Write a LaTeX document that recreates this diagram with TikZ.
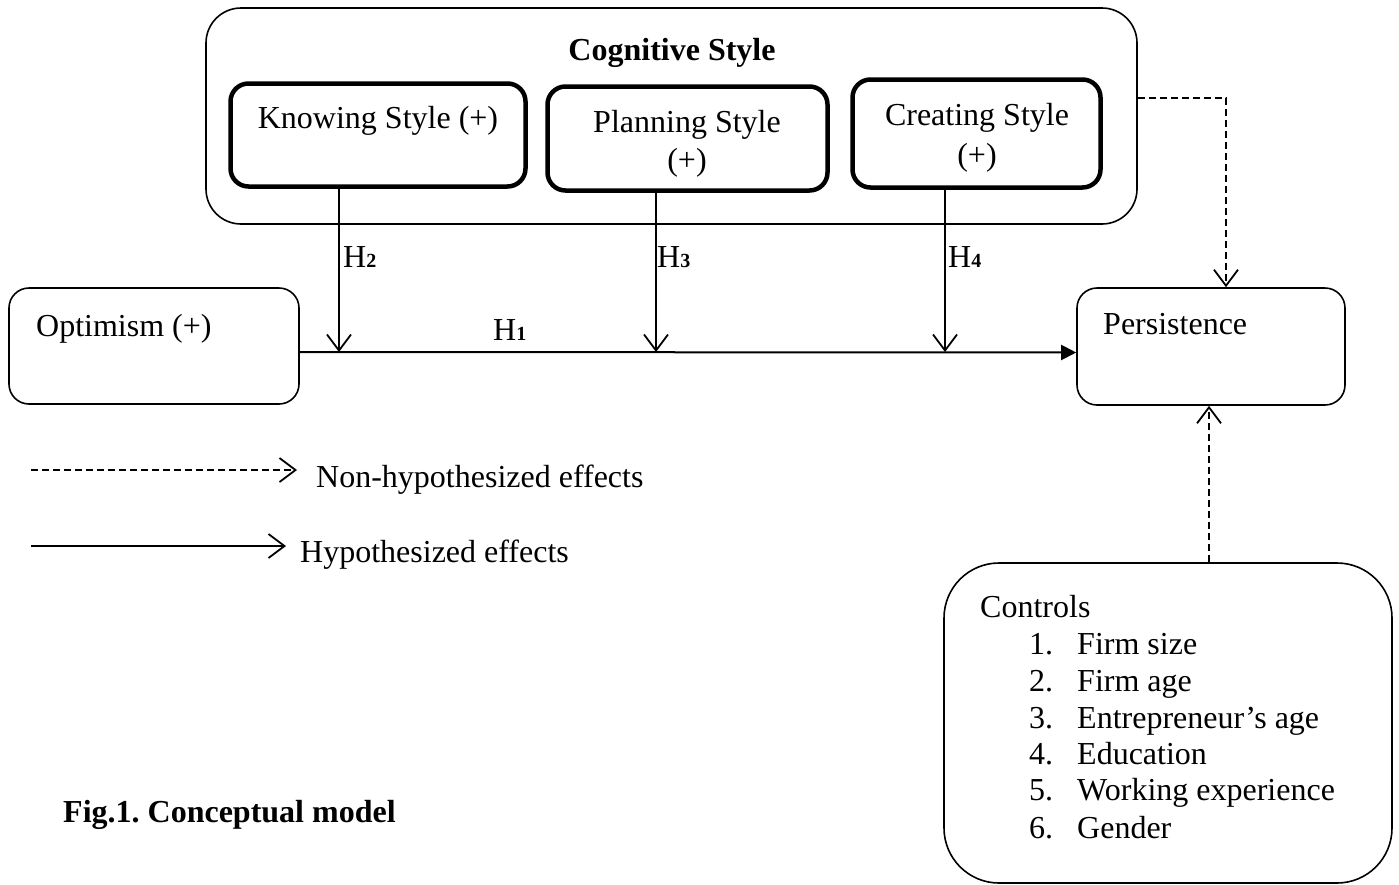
\documentclass[tikz,border=0pt]{standalone}
\usepackage{fontspec}
\setmainfont{Liberation Serif}
\usepackage{tikz}
\usetikzlibrary{arrows.meta,calc}
\frenchspacing
\newcommand{\bodyfont}{\fontsize{32}{37}\selectfont}
\newcommand{\subdigit}[1]{{\fontsize{20}{20}\selectfont\bfseries #1}}
\tikzset{
        thinbox/.style = {draw, rectangle, rounded corners=20pt,
            line width=1.6pt, inner sep=0pt},
        thickbox/.style = {draw, rectangle, rounded corners=18pt,
            line width=4.5pt, inner sep=0pt},
        txt/.style = {inner sep=0pt, anchor=base west, font=\bodyfont},
        mainarrow/.style = {draw, line width=2pt, -{Triangle[length=15pt,width=15pt]}},
        hyparrow/.style = {draw, line width=1.4pt,
            -{Straight Barb[length=16pt,width=24pt,line width=1.8pt]}},
        nonhyparrow/.style = {draw, line width=1.4pt, dash pattern=on 7pt off 4pt,
            -{Straight Barb[length=16pt,width=24pt,line width=1.8pt]}},
    }

\begin{document}
\begin{tikzpicture}[x=1pt,y=1pt,yscale=-1,xscale=1]
    \useasboundingbox (0,0) rectangle (1399,884);

    % Boxes
    \node[thinbox, rounded corners=35pt, minimum width=931pt, minimum height=216pt] (cogbox) at (671.5,116) {};
    \node[thickbox, minimum width=295pt, minimum height=103pt] (knowbox) at (378,135) {};
    \node[thickbox, minimum width=280pt, minimum height=104pt] (planbox) at (687.5,138.5) {};
    \node[thickbox, minimum width=248pt, minimum height=108pt] (creatbox) at (976.5,133.5) {};
    \node[thinbox, minimum width=290pt, minimum height=116pt] (optbox) at (154,346) {};
    \node[thinbox, minimum width=268pt, minimum height=117pt] (persbox) at (1211,346.5) {};
    \node[thinbox, rounded corners=55pt, minimum width=448pt, minimum height=320pt] (ctrlbox) at (1168,723) {};

    % Text Node
    \node[txt, anchor=base, font=\bodyfont\bfseries] (cogtitle) at (672,60) {Cognitive Style};
    \node[txt, anchor=base] (knowtext) at (378,128) {Knowing Style (+)};
    \node[txt, anchor=base] (plantext) at (687,132) {Planning Style};
    \node[txt, anchor=base] (planplus) at (687,170) {(+)};
    \node[txt, anchor=base] (creattext) at (977,125) {Creating Style};
    \node[txt, anchor=base] (creatplus) at (977,165) {(+)};
    \node[txt] (opttext) at (36,336) {Optimism (+)};
    \node[txt] (perstext) at (1103,334) {Persistence};

    % Text Node
    \node[txt] (ctrltitle) at (980,617) {Controls};
    \node[txt] (ctrl1) at (1029,654) {\makebox[48pt][l]{1.}Firm size};
    \node[txt] (ctrl2) at (1029,691) {\makebox[48pt][l]{2.}Firm age};
    \node[txt] (ctrl3) at (1029,728) {\makebox[48pt][l]{3.}Entrepreneur’s age};
    \node[txt] (ctrl4) at (1029,764) {\makebox[48pt][l]{4.}Education};
    \node[txt] (ctrl5) at (1029,800) {\makebox[48pt][l]{5.}Working experience};
    \node[txt] (ctrl6) at (1029,838) {\makebox[48pt][l]{6.}Gender};

    % Hypotheses
    \draw[mainarrow] ([yshift=6pt]optbox.east) -- ([yshift=6pt]persbox.west);
    \coordinate (h2end) at (339,352);
    \coordinate (h3end) at (656,352);
    \coordinate (h4end) at (945,352);
    \draw[hyparrow] (knowbox.south -| h2end) -- (h2end);
    \draw[hyparrow] (planbox.south -| h3end) -- (h3end);
    \draw[hyparrow] (creatbox.south -| h4end) -- (h4end);
    \node[txt] (h1) at (493,340) {H\subdigit{1}};
    \node[txt] (h2) at (343,267) {H\subdigit{2}};
    \node[txt] (h3) at (657,267) {H\subdigit{3}};
    \node[txt] (h4) at (948,267) {H\subdigit{4}};

    % Non-hypothesized effects
    \coordinate (dbend) at (1226,98);
    \draw[nonhyparrow] (cogbox.east |- dbend) -- (dbend) -- (persbox.north -| dbend);
    \coordinate (ctrlx) at (1209,563);
    \draw[nonhyparrow] (ctrlbox.north -| ctrlx) -- (persbox.south -| ctrlx);

    % Legend
    \coordinate (nhstart) at (31,470);
    \coordinate (nhend) at (297,470);
    \draw[nonhyparrow] (nhstart) -- (nhend);
    \node[txt] (nhtext) at (316,487) {Non-hypothesized effects};
    \coordinate (hstart) at (31,546);
    \coordinate (hend) at (286,546);
    \draw[hyparrow] (hstart) -- (hend);
    \node[txt] (htext) at (300,562) {Hypothesized effects};

    % Caption
    \node[txt, font=\bodyfont\bfseries] (caption) at (63,822) {Fig.1. Conceptual model};

\end{tikzpicture}
\end{document}
